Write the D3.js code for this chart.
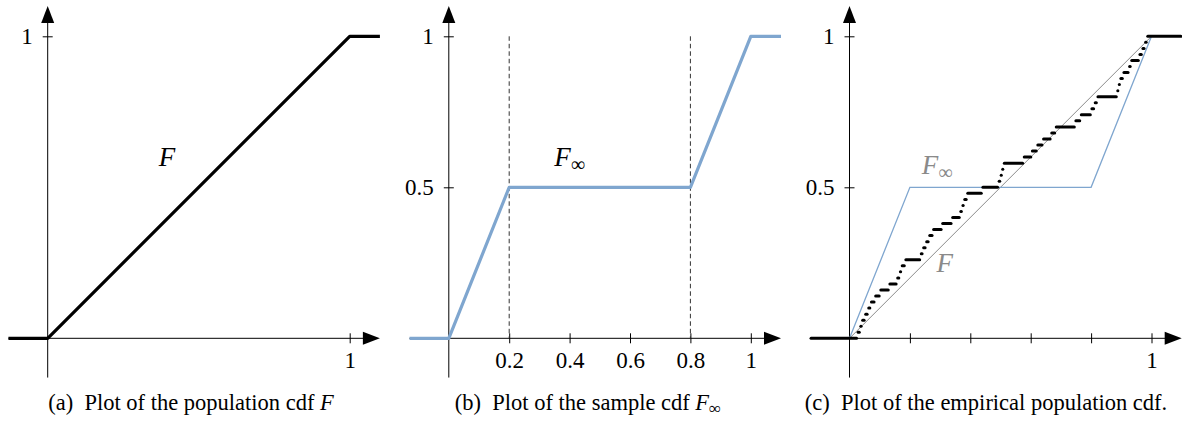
<!DOCTYPE html>
<html>
<head>
<meta charset="utf-8">
<script src="https://cdn.jsdelivr.net/npm/d3@7"></script>
<style>
  body { margin: 0; background: #fff; }
</style>
</head>
<body>
<div id="chart"></div>
<script>
const WIDTH = 1182, HEIGHT = 422;
const PANEL_X0 = [47.7, 448.8, 849.5];   // pixel position of x = 0 in each panel
const UNIT = 302;                         // pixels per unit on both axes
const Y0 = 338.3;                         // pixel position of y = 0
const AXIS_MIN = -0.13, AXIS_MAX = 1.1;
const FONT = '"Liberation Serif"';

const BLUE = "#7fa6cf";
const GREY = "#8a8a8a";

// population cdf F (uniform)
const popX = [AXIS_MIN, 0, 1, AXIS_MAX];
const popY = [0, 0, 1, 1];

// sample cdf F_inf
const infX = [AXIS_MIN, 0, 0.2, 0.8, 1, AXIS_MAX];
const infY = [0, 0, 0.5, 0.5, 1, 1];

// sorted sample used for the empirical cdf (50 draws)
const sampleX = [0.026, 0.035, 0.041, 0.051, 0.061, 0.070, 0.084, 0.101, 0.131, 0.157,
                 0.166, 0.172, 0.184, 0.235, 0.243, 0.253, 0.263, 0.276, 0.306, 0.339,
                 0.366, 0.373, 0.379, 0.389, 0.439, 0.493, 0.500, 0.505, 0.510, 0.576,
                 0.603, 0.621, 0.640, 0.667, 0.682, 0.747, 0.765, 0.800, 0.811, 0.820,
                 0.886, 0.891, 0.896, 0.906, 0.925, 0.932, 0.959, 0.969, 0.978, 0.985];

const ticksA = [1], ticksB = [0.2, 0.4, 0.6, 0.8, 1], ticksC = [0.2, 0.4, 0.6, 0.8, 1];
const yTicksA = [1], yTicksB = [0.5, 1], yTicksC = [0.5, 1];
const dashedB = [0.2, 0.8];

const captions = [
  ["(a)", "Plot of the population cdf ", "F", ""],
  ["(b)", "Plot of the sample cdf ", "F", "∞"],
  ["(c)", "Plot of the empirical population cdf.", "", ""]
];

const svg = d3.select("#chart").append("svg")
  .attr("width", WIDTH).attr("height", HEIGHT)
  .style("font-family", FONT);

const y = d3.scaleLinear().domain([0, 1]).range([Y0, Y0 - UNIT]);

function panel(i, xTicks, xLabels, yTicks) {
  const x = d3.scaleLinear().domain([0, 1]).range([PANEL_X0[i], PANEL_X0[i] + UNIT]);
  const g = svg.append("g");

  // x axis
  const xa = g.append("g").attr("transform", `translate(0, ${Y0})`)
    .call(d3.axisBottom(x).tickValues(xTicks).tickSize(0)
      .tickFormat(d => xLabels.includes(d) ? d3.format("")(d) : ""));
  xa.select(".domain").remove();
  xa.selectAll(".tick line").attr("y1", -5).attr("y2", 5).attr("stroke", "#000");
  xa.selectAll(".tick text").attr("y", 30).attr("dy", 0)
    .style("font-family", FONT).style("font-size", "23px").style("fill", "#000");

  // y axis
  const ya = g.append("g").attr("transform", `translate(${x(0)}, 0)`)
    .call(d3.axisLeft(y).tickValues(yTicks).tickSize(0).tickFormat(d3.format("")));
  ya.select(".domain").remove();
  ya.selectAll(".tick line").attr("x1", -5).attr("x2", 5).attr("stroke", "#000");
  ya.selectAll(".tick text").attr("x", -15).attr("dy", 7.5)
    .style("font-family", FONT).style("font-size", "23px").style("fill", "#000");

  // axis lines with arrow heads (tip at AXIS_MAX)
  const ax = x(AXIS_MAX), ay = y(AXIS_MAX);
  g.append("line").attr("x1", x(AXIS_MIN)).attr("x2", ax - 15)
    .attr("y1", y(0)).attr("y2", y(0)).attr("stroke", "#000").attr("stroke-width", 1);
  g.append("line").attr("x1", x(0)).attr("x2", x(0))
    .attr("y1", y(AXIS_MIN)).attr("y2", ay + 15).attr("stroke", "#000").attr("stroke-width", 1);
  g.append("path").attr("d", `M${ax},${y(0)} L${ax - 17},${y(0) - 6.5} L${ax - 17},${y(0) + 6.5} Z`);
  g.append("path").attr("d", `M${x(0)},${ay} L${x(0) - 6.5},${ay + 17} L${x(0) + 6.5},${ay + 17} Z`);

  return { g, x };
}

function caption(i, parts, cx) {
  const t = svg.append("text").attr("x", cx).attr("y", 410)
    .attr("text-anchor", "middle")
    .style("font-family", FONT).style("font-size", "22.5px").style("fill", "#000");
  t.append("tspan").text(parts[0] + "\u2002");
  t.append("tspan").text(parts[1]);
  if (parts[2]) t.append("tspan").style("font-style", "italic").text(parts[2]);
  if (parts[3]) t.append("tspan").attr("dy", 4).style("font-size", "17px").text(parts[3]);
}

function label(g, px, py, main, sub, color) {
  const t = g.append("text").attr("x", px).attr("y", py)
    .attr("text-anchor", "middle")
    .style("font-family", FONT).style("font-size", "27px").style("fill", color);
  t.append("tspan").style("font-style", "italic").text(main);
  if (sub) t.append("tspan").attr("dy", 5).style("font-size", "20px").text(sub);
}

const line = (x) => d3.line().x(d => x(d[0])).y(d => y(d[1]));

// (a) population cdf
{
  const { g, x } = panel(0, ticksA, [1], yTicksA);
  g.append("path").datum(d3.zip(popX, popY)).attr("d", line(x))
    .attr("fill", "none").attr("stroke", "#000").attr("stroke-width", 3.2)
    .attr("stroke-linejoin", "round");
  label(g, x(0.395), y(0.572), "F", "", "#000");
  caption(0, captions[0], 191);
}

// (b) sample cdf
{
  const { g, x } = panel(1, ticksB, ticksB, yTicksB);
  g.selectAll(".guide").data(dashedB).join("line").attr("class", "guide")
    .attr("x1", d => x(d)).attr("x2", d => x(d)).attr("y1", y(1)).attr("y2", y(0))
    .attr("stroke", "#333").attr("stroke-width", 1).attr("stroke-dasharray", "4.5,3");
  g.append("path").datum(d3.zip(infX, infY)).attr("d", line(x))
    .attr("fill", "none").attr("stroke", BLUE).attr("stroke-width", 3.2)
    .attr("stroke-linejoin", "round");
  label(g, x(0.4), y(0.572), "F", "∞", "#000");
  caption(1, captions[1], 588);
}

// (c) empirical cdf
{
  const { g, x } = panel(2, ticksC, [1], yTicksC);
  g.append("path").datum([[0, 0], [1, 1]]).attr("d", line(x))
    .attr("fill", "none").attr("stroke", GREY).attr("stroke-width", 1);
  g.append("path").datum(d3.zip(infX, infY).filter(d => d[0] >= 0 && d[0] <= 1)).attr("d", line(x))
    .attr("fill", "none").attr("stroke", BLUE).attr("stroke-width", 1.3);
  const n = sampleX.length;
  const edges = [AXIS_MIN, ...sampleX, AXIS_MAX];
  const steps = d3.range(n + 1).map(k => ({ x0: edges[k], x1: edges[k + 1], level: k / n }));
  g.selectAll(".step").data(steps).join("line").attr("class", "step")
    .attr("x1", d => x(d.x0) + 0.8).attr("x2", d => x(d.x1) - 0.8)
    .attr("y1", d => y(d.level)).attr("y2", d => y(d.level))
    .attr("stroke", "#000").attr("stroke-width", 3).attr("stroke-linecap", "round");
  label(g, x(0.29), y(0.545), "F", "∞", GREY);
  label(g, x(0.315), y(0.22), "F", "", GREY);
  caption(2, captions[2], 986);
}
</script>
</body>
</html>
